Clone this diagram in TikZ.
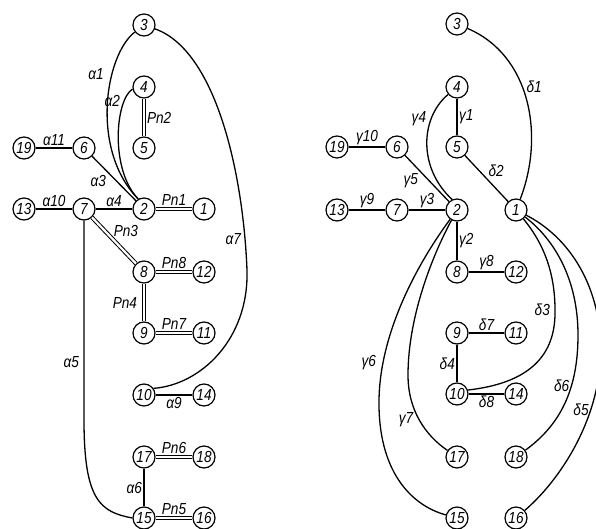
\documentclass[tikz,border=0pt]{standalone}
\usepackage{fontspec}
\usepackage{tikz}
\newfontfamily\gostfont[FakeStretch=0.85]{Liberation Sans}
\tikzset{
  vertex/.style={circle,draw,line width=1.2pt,minimum size=22pt,inner sep=0pt,
    font=\gostfont\itshape\fontsize{16}{16}\selectfont},
  link/.style={line width=1.3pt},
  pair/.style={double,double distance=2.2pt,line width=1pt},
  lbl/.style={inner sep=1.5pt,font=\gostfont\itshape\fontsize{16}{16}\selectfont},
}

\begin{document}
\begin{tikzpicture}[x=1pt,y=-1pt]
    \useasboundingbox (0,0) rectangle (596,529);
    % left graph
    \node[vertex] (A3) at (144,25) {3};
    \node[vertex] (A4) at (144,87) {4};
    \node[vertex] (A5) at (144,148) {5};
    \node[vertex] (A19) at (24,148) {19};
    \node[vertex] (A6) at (84,148) {6};
    \node[vertex] (A13) at (24,209) {13};
    \node[vertex] (A7) at (84,209) {7};
    \node[vertex] (A2) at (144,209) {2};
    \node[vertex] (A1) at (204,209) {1};
    \node[vertex] (A8) at (144,272) {8};
    \node[vertex] (A12) at (204,272) {12};
    \node[vertex] (A9) at (144,333) {9};
    \node[vertex] (A11) at (204,333) {11};
    \node[vertex] (A10) at (144,395) {10};
    \node[vertex] (A14) at (204,395) {14};
    \node[vertex] (A17) at (144,457) {17};
    \node[vertex] (A18) at (204,457) {18};
    \node[vertex] (A15) at (144,518) {15};
    \node[vertex] (A16) at (204,518) {16};
    \draw[link] (A3) .. controls (105,55) and (90,150) .. node[lbl,pos=0.33,left=6pt] {α1} (A2.120);
    \draw[link] (A4.190) .. controls (115,100) and (110,170) .. node[lbl,pos=0.19,left=2pt] {α2} (A2.120);
    \draw[link] (A6) -- node[lbl,pos=0.55,left=8pt] {α3} (A2);
    \draw[link] (A7) -- node[lbl,midway,above] {α4} (A2);
    \draw[link] (A19) -- node[lbl,midway,above] {α11} (A6);
    \draw[link] (A13) -- node[lbl,midway,above] {α10} (A7);
    \draw[pair] (A2) -- node[lbl,midway,above=1pt] {Pn1} (A1);
    \draw[pair] (A4) -- node[lbl,midway,right=1pt] {Pn2} (A5);
    \draw[pair] (A7) -- node[lbl,pos=0.45,above right] {Pn3} (A8);
    \draw[pair] (A8) -- node[lbl,midway,above=1pt] {Pn8} (A12);
    \draw[pair] (A8) -- node[lbl,midway,left=5pt] {Pn4} (A9);
    \draw[pair] (A9) -- node[lbl,midway,above=2pt] {Pn7} (A11);
    \draw[link] (A10) -- node[lbl,midway,below] {α9} (A14);
    \draw[pair] (A17) -- node[lbl,midway,above=1pt] {Pn6} (A18);
    \draw[link] (A17) -- node[lbl,midway,left] {α6} (A15);
    \draw[pair] (A15) -- node[lbl,midway,above=1pt] {Pn5} (A16);
    \draw[link] (A3) .. controls (215,50) and (243,170) .. node[lbl,pos=0.9,left=2pt] {α7} (247,270)
        .. controls (249,340) and (200,385) .. (A10.35);
    \draw[link] (A7) -- node[lbl,pos=0.71,left=3pt] {α5} (84,420)
        .. controls (84,500) and (100,512) .. (A15.west);
    % right graph
    \node[vertex] (B3) at (457,24) {3};
    \node[vertex] (B4) at (457,87) {4};
    \node[vertex] (B5) at (457,147) {5};
    \node[vertex] (B19) at (337,147) {19};
    \node[vertex] (B6) at (397,147) {6};
    \node[vertex] (B13) at (337,210) {13};
    \node[vertex] (B7) at (397,210) {7};
    \node[vertex] (B2) at (457,210) {2};
    \node[vertex] (B1) at (516,210) {1};
    \node[vertex] (B8) at (457,272) {8};
    \node[vertex] (B12) at (516,272) {12};
    \node[vertex] (B9) at (457,333) {9};
    \node[vertex] (B11) at (516,333) {11};
    \node[vertex] (B10) at (457,394) {10};
    \node[vertex] (B14) at (516,394) {14};
    \node[vertex] (B17) at (457,457) {17};
    \node[vertex] (B18) at (516,457) {18};
    \node[vertex] (B15) at (457,518) {15};
    \node[vertex] (B16) at (516,518) {16};
    \draw[link] (B19) -- node[lbl,midway,above] {γ10} (B6);
    \draw[link] (B13) -- node[lbl,midway,above] {γ9} (B7);
    \draw[link] (B6) -- node[lbl,pos=0.55,left=9pt] {γ5} (B2);
    \draw[link] (B7) -- node[lbl,midway,above] {γ3} (B2);
    \draw[link] (B4) -- node[lbl,midway,right] {γ1} (B5);
    \draw[link] (B5) -- node[lbl,midway,above right] {δ2} (B1);
    \draw[link] (B2) -- node[lbl,midway,right] {γ2} (B8);
    \draw[link] (B8) -- node[lbl,midway,above] {γ8} (B12);
    \draw[link] (B9) -- node[lbl,midway,above] {δ7} (B11);
    \draw[link] (B9) -- node[lbl,midway,left] {δ4} (B10);
    \draw[link] (B10) -- node[lbl,midway,below] {δ8} (B14);
    \draw[link] (B4) .. controls (420,118) and (418,168) .. node[lbl,pos=0.27,left=3pt] {γ4} (B2.115);
    \draw[link] (B3) .. controls (530,55) and (545,135) .. node[lbl,pos=0.43,right=2pt] {δ1} (B1);
    \draw[link] (B1) .. controls (545,245) and (555,275) .. (555,310) node[lbl,left=3pt] {δ3}
        .. controls (556,355) and (530,383) .. (B10.20);
    \draw[link] (B1) .. controls (555,240) and (578,280) .. (578,335)
        .. controls (578,390) and (560,425) .. node[lbl,pos=0.35,left] {δ6} (B18);
    \draw[link] (B1) .. controls (565,235) and (600,280) .. (601,350)
        .. controls (600,420) and (560,480) .. node[lbl,pos=0.3,left] {δ5} (B16);
    \draw[link] (B2) .. controls (430,260) and (408,320) .. (408,375)
        .. controls (408,410) and (425,435) .. node[lbl,pos=0.5,left=4pt] {γ7} (B17);
    \draw[link] (B2) .. controls (420,260) and (380,330) .. node[lbl,pos=0.82,left=5pt] {γ6} (379,400)
        .. controls (378,470) and (410,505) .. (B15);
  \end{tikzpicture}
\end{document}
